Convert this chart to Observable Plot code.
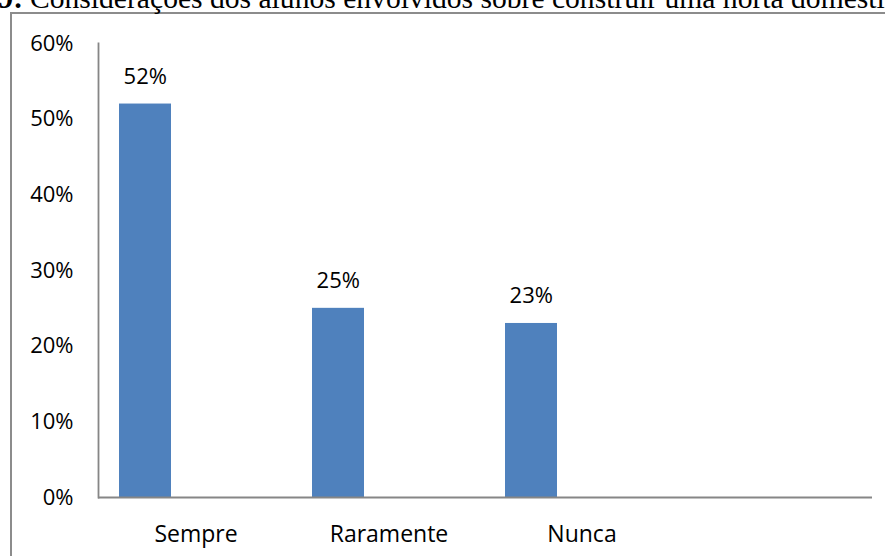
<!DOCTYPE html>
<html>
<head>
<meta charset="utf-8">
<script src="https://cdn.jsdelivr.net/npm/d3@7"></script>
<script src="https://cdn.jsdelivr.net/npm/@observablehq/plot@0.6"></script>
<style>
  html, body { margin: 0; padding: 0; background: #fff; }
  #wrap { position: relative; width: 885px; height: 556px; overflow: hidden; background: #fff; }
  #box { position: absolute; left: 10px; top: 12px; width: 900px; height: 600px;
         border-left: 2px solid #8c8c8c; border-top: 2px solid #8c8c8c; box-sizing: border-box; }
  .title { position: absolute; top: -17px; font-family: "Liberation Serif", "Times New Roman", serif;
           font-size: 29.6px; line-height: 30px; white-space: nowrap; color: #000; }
  #t1 { right: 862px; font-weight: bold; }
  #t2 { left: 30px; }
  #chart { position: absolute; left: 0; top: 0; }
</style>
</head>
<body>
<div id="wrap">
  <div id="box"></div>
  <div class="title" id="t1">Gráfico 9:</div>
  <div class="title" id="t2">Considerações dos alunos envolvidos sobre construir uma horta doméstica</div>
  <div id="chart"></div>
</div>
<script>
const categories = ["Sempre", "Raramente", "Nunca", ""];
const values = [52, 25, 23];
const yTicks = [0, 10, 20, 30, 40, 50, 60];

const data = values.map((v, i) => ({cat: categories[i], value: v}));

const plot = Plot.plot({
  width: 885,
  height: 556,
  marginLeft: 98,
  marginRight: 13,
  marginTop: 43,
  marginBottom: 59,
  style: {fontFamily: "'Open Sans', sans-serif", fontSize: "22px", color: "#000", background: "transparent", overflow: "visible"},
  x: {type: "band", domain: categories, padding: 0},
  y: {domain: [0, 60]},
  marks: [
    Plot.barY(data, {x: "cat", y: "value", fill: "#4F81BD", insetLeft: 20, insetRight: 121}),
    Plot.text(data, {x: "cat", y: "value", text: d => d.value + "%", dx: -50.75, dy: -20, lineAnchor: "bottom", fontSize: 22, fill: "#000"}),
    Plot.axisY({ticks: yTicks, tickFormat: d => d + "%", tickSize: 0, tickPadding: 25, fontSize: 22, label: null}),
    Plot.axisX({tickSize: 0, tickPadding: 28, fontSize: 23, label: null}),
    Plot.frame({anchor: "left", stroke: "#868686", strokeWidth: 1.8}),
    Plot.ruleY([0], {stroke: "#868686", strokeWidth: 1.8})
  ]
});
document.getElementById("chart").appendChild(plot);
</script>
</body>
</html>
